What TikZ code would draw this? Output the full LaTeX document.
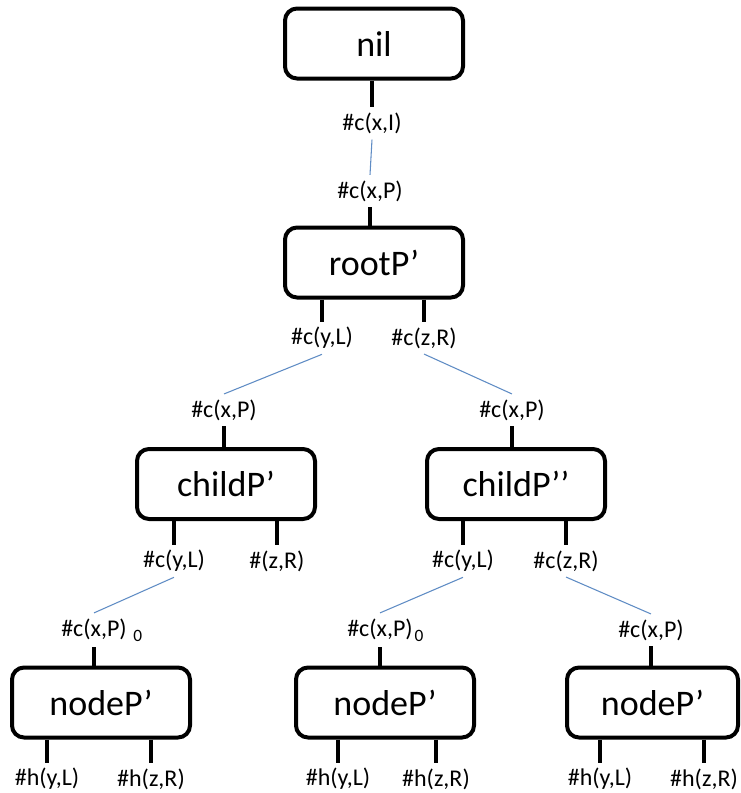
\documentclass[tikz,border=0pt]{standalone}
\usepackage{fontspec}
\setmainfont{Carlito}
\usepackage{xcolor}
\definecolor{linkblue}{RGB}{95,140,196}

\begin{document}
\begin{tikzpicture}[x=0.75pt, y=-0.75pt]
    % Style definitions
    \tikzset{
        block/.style={draw, line width=3pt, rounded corners=9pt, minimum width=133.5pt, minimum height=52.5pt, font=\fontsize{27}{30}\selectfont},
        tag/.style={inner sep=4pt, font=\fontsize{18}{20}\selectfont},
        stub/.style={black, line width=3pt},
        link/.style={linkblue, line width=0.8pt}
    }
    \useasboundingbox (0,0) rectangle (740,793);

    % ==========================================
    % BLOCKS
    % ==========================================
    \node[block] (nil) at (374,43.5) {nil};
    \node[block] (rootP) at (374,262.5) {rootP’};
    \node[block] (childA) at (226,484) {childP’};
    \node[block] (childB) at (516,484) {childP’{}’};
    \node[block] (nodeA) at (101,702.5) {nodeP’};
    \node[block] (nodeB) at (385,702.5) {nodeP’};
    \node[block, minimum width=128.25pt] (nodeC) at (652.5,702.5) {nodeP’};

    % ==========================================
    % TAGS
    % ==========================================
    \node[tag] (nilX) at (372,123.5) {\#c(x,I)};
    \node[tag] (rootX) at (370,191) {\#c(x,P)};
    \node[tag] (rootY) at (322,338) {\#c(y,L)};
    \node[tag] (rootZ) at (424,338) {\#c(z,R)};

    \node[tag] (childAX) at (224,410) {\#c(x,P)};
    \node[tag] (childAY) at (174,561) {\#c(y,L)};
    \node[tag] (childAZ) at (277,561) {\#(z,R)};
    \node[tag] (childBX) at (512,410) {\#c(x,P)};
    \node[tag] (childBY) at (463,561) {\#c(y,L)};
    \node[tag] (childBZ) at (566,561) {\#c(z,R)};

    \node[tag] (nodeAX) at (94,630) {\#c(x,P)\rlap{\hspace{5pt}\raisebox{-4pt}{\fontsize{13}{13}\selectfont 0}}};
    \node[tag] (nodeAY) at (47,779) {\#h(y,L)};
    \node[tag] (nodeAZ) at (151,779) {\#h(z,R)};
    \node[tag] (nodeBX) at (380,630) {\#c(x,P)\rlap{\hspace{1.5pt}\raisebox{-4pt}{\fontsize{13}{13}\selectfont 0}}};
    \node[tag] (nodeBY) at (338,779) {\#h(y,L)};
    \node[tag] (nodeBZ) at (436,779) {\#h(z,R)};
    \node[tag] (nodeCX) at (651,630) {\#c(x,P)};
    \node[tag] (nodeCY) at (600,779) {\#h(y,L)};
    \node[tag] (nodeCZ) at (704,779) {\#h(z,R)};

    % ==========================================
    % STUBS (black, block to tag)
    % ==========================================
    \draw[stub] (nil.south -| nilX) -- (nilX.north);
    \draw[stub] (rootX.south) -- (rootP.north -| rootX);
    \draw[stub] (rootP.south -| rootY) -- (rootY.north);
    \draw[stub] (rootP.south -| rootZ) -- (rootZ.north);

    \draw[stub] (childAX.south) -- (childA.north -| childAX);
    \draw[stub] (childA.south -| childAY) -- (childAY.north);
    \draw[stub] (childA.south -| childAZ) -- (childAZ.north);
    \draw[stub] (childBX.south) -- (childB.north -| childBX);
    \draw[stub] (childB.south -| childBY) -- (childBY.north);
    \draw[stub] (childB.south -| childBZ) -- (childBZ.north);

    \draw[stub] (nodeAX.south) -- (nodeA.north -| nodeAX);
    \draw[stub] (nodeA.south -| nodeAY) -- (nodeAY.north);
    \draw[stub] (nodeA.south -| nodeAZ) -- (nodeAZ.north);
    \draw[stub] (nodeBX.south) -- (nodeB.north -| nodeBX);
    \draw[stub] (nodeB.south -| nodeBY) -- (nodeBY.north);
    \draw[stub] (nodeB.south -| nodeBZ) -- (nodeBZ.north);
    \draw[stub] (nodeCX.south) -- (nodeC.north -| nodeCX);
    \draw[stub] (nodeC.south -| nodeCY) -- (nodeCY.north);
    \draw[stub] (nodeC.south -| nodeCZ) -- (nodeCZ.north);

    % ==========================================
    % LINKS (blue, tag to tag)
    % ==========================================
    \draw[link] (nilX.south) -- (rootX.north);
    \draw[link] (rootY.south) -- (childAX.north);
    \draw[link] (rootZ.south) -- (childBX.north);
    \draw[link] (childAY.south) -- (nodeAX.north);
    \draw[link] (childBY.south) -- (nodeBX.north);
    \draw[link] (childBZ.south) -- (nodeCX.north);
\end{tikzpicture}
\end{document}
